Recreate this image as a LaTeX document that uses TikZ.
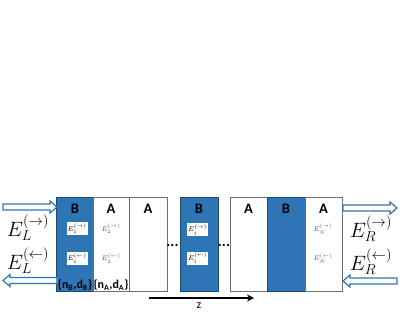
\documentclass[tikz,border=0pt]{standalone}
\usepackage{fontspec}
\newfontfamily\calibri{Carlito}
\usetikzlibrary{arrows.meta}
\definecolor{layerblue}{RGB}{46,117,182}
\definecolor{layeredge}{RGB}{110,110,110}

\tikzset{
  layerA/.style={draw=layeredge, fill=white, line width=0.7pt, minimum width=37pt, minimum height=94pt, inner sep=0pt},
  layerB/.style={layerA, fill=layerblue, draw=layerblue!60!black},
  tag/.style={font=\calibri\bfseries\fontsize{14.5}{14.5}\selectfont, inner sep=0pt},
  param/.style={font=\calibri\bfseries\fontsize{12}{12}\selectfont, inner sep=0pt},
  fieldbox/.style={fill=white, inner sep=0pt, minimum width=21pt, minimum height=13pt, font=\fontsize{7}{7}\selectfont},
  field/.style={font=\fontsize{7}{7}\selectfont, text=black!65, inner sep=0pt},
  bigfield/.style={font=\fontsize{20}{20}\selectfont, inner sep=0pt},
  dots/.style={font=\calibri\bfseries\fontsize{15}{15}\selectfont, inner sep=0pt},
  wave/.pic={\draw[draw=layerblue, fill=white, line width=1.2pt, line join=miter]
    (0,-3) -- (47,-3) -- (47,-6) -- (54,0) -- (47,6) -- (47,3) -- (0,3) -- cycle;}
}

\begin{document}
\begin{tikzpicture}[x=1pt, y=-1pt]
\useasboundingbox (0,0) rectangle (415,312);

% layers of the stack
\node[layerB] (b1) at (75,244) {};
\node[layerA, minimum width=36pt] (a1) at (111,244) {};
\node[layerA, minimum width=38pt] (a2) at (148,244) {};
\node[layerB, minimum width=38pt] (bj) at (199,244) {};
\node[layerA] (a3) at (248.5,244) {};
\node[layerB, minimum width=38pt] (b2) at (286,244) {};
\node[layerA] (aN) at (323.5,244) {};

% layer names
\node[tag] (tb1) at (75,209) {B};
\node[tag] (ta1) at (111,209) {A};
\node[tag] (ta2) at (148,209) {A};
\node[tag] (tbj) at (199,209) {B};
\node[tag] (ta3) at (248.5,209) {A};
\node[tag] (tb2) at (286,209) {B};
\node[tag] (taN) at (323.5,209) {A};

% fields inside the layers
\node[fieldbox] (f1r) at (77,229) {$E_1^{(\rightarrow)}$};
\node[fieldbox] (f1l) at (77,258.5) {$E_1^{(\leftarrow)}$};
\node[field] (f2r) at (111,229) {$E_2^{(\rightarrow)}$};
\node[field] (f2l) at (111,258.5) {$E_2^{(\leftarrow)}$};
\node[fieldbox] (fjr) at (197.5,230) {$E_j^{(\rightarrow)}$};
\node[fieldbox] (fjl) at (197.5,258.5) {$E_j^{(\leftarrow)}$};
\node[field] (fNr) at (323,229) {$E_N^{(\rightarrow)}$};
\node[field] (fNl) at (323,258.5) {$E_N^{(\leftarrow)}$};

% layer parameters
\node[param] (pb) at (75,285) {\{n\textsubscript{B},d\textsubscript{B}\}};
\node[param] (pa) at (111,285) {\{n\textsubscript{A},d\textsubscript{A}\}};

% gaps
\node[dots] (gap1) at (172.5,245) {...};
\node[dots] (gap2) at (224,245) {...};

% outer fields
\node[bigfield] (elr) at (28,228) {$E_L^{(\rightarrow)}$};
\node[bigfield] (ell) at (28,261) {$E_L^{(\leftarrow)}$};
\node[bigfield] (err) at (371,229) {$E_R^{(\rightarrow)}$};
\node[bigfield] (erl) at (371,262) {$E_R^{(\leftarrow)}$};

% incoming and outgoing waves
\pic at (3,207) {wave};
\pic[rotate=180] at (57,280.5) {wave};
\pic at (343,208) {wave};
\pic[rotate=180] at (397,281) {wave};

% propagation axis
\coordinate (zfrom) at (149,298);
\coordinate (zto) at (254,298);
\draw[line width=1.6pt, -{Stealth[length=7pt, width=7pt]}] (zfrom) -- (zto);
\node[font=\calibri\fontsize{12}{12}\selectfont, inner sep=0pt] (zlab) at (199,306) {z};
\end{tikzpicture}
\end{document}
